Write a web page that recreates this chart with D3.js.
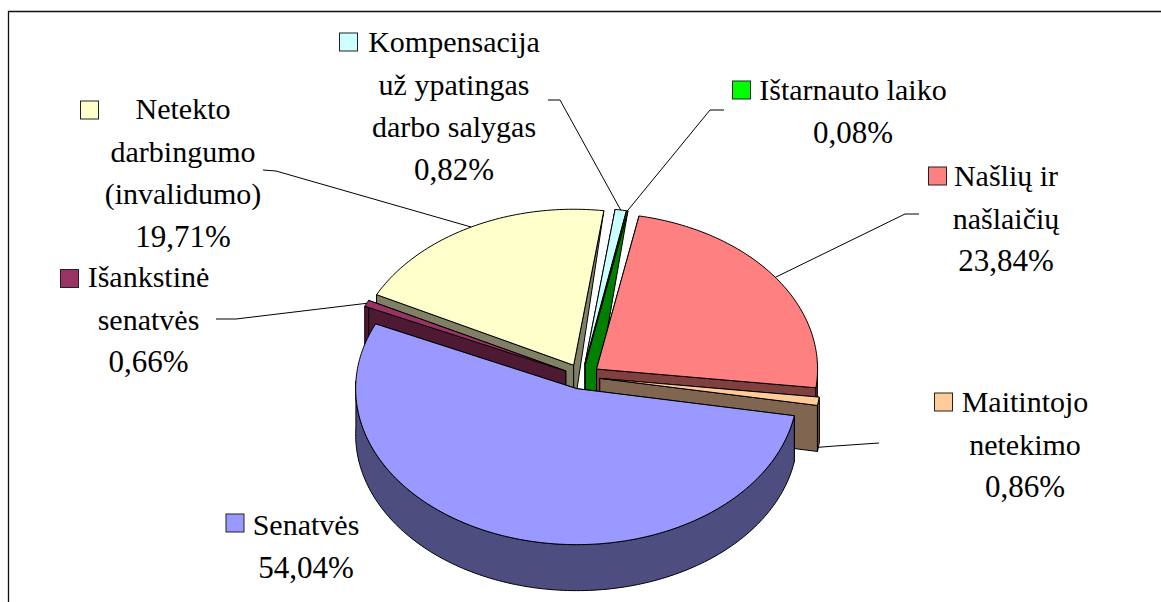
<!DOCTYPE html>
<html><head><meta charset="utf-8">
<script src="https://cdn.jsdelivr.net/npm/d3@7/dist/d3.min.js"></script>
<style>html,body{margin:0;padding:0;background:#fff;overflow:hidden}svg{display:block}text{font-family:"Liberation Serif",serif;fill:#000}</style>
</head><body><svg id="c" width="1161" height="602"></svg>
<script>
// Data, in the chart's clockwise order starting at "Senatvės"
const categories = ["Senatvės","Išankstinė senatvės","Netekto darbingumo (invalidumo)","Kompensacija už ypatingas darbo salygas","Ištarnauto laiko","Našlių ir našlaičių","Maitintojo netekimo"];
const shares = [54.04,0.66,19.71,0.82,0.08,23.84,0.86];
const valueLabels = ["54,04%","0,66%","19,71%","0,82%","0,08%","23,84%","0,86%"];
const labelLines = [["Senatvės"],["Išankstinė","senatvės"],["Netekto","darbingumo","(invalidumo)"],["Kompensacija","už ypatingas","darbo salygas"],["Ištarnauto laiko"],["Našlių ir","našlaičių"],["Maitintojo","netekimo"]];
const topColors = ["#9999ff","#993366","#ffffcc","#ccffff","#00ff00","#ff8080","#ffcc99"];
const wallColors = ["#4d4d80","#4d1933","#808066","#668080","#008000","#804040","#806650"];
// Layout
const labelCx = [306,148.5,183,454,853,1006,1025];
const labelBase = [535,287,119,52,100,186,412];
const keyPos = [[226,514],[60.5,269.5],[80.5,101],[339.5,33],[732.5,81],[928.5,167],[934.5,393]];
const leaderPaths = [null,[[216,319],[236,319]],[[263,170],[276,171]],[[548,100],[560,100]],[[724,110],[710,110]],[[919,214],[905,214]],[[879,443],[835,446]]];
const leaderFromWall = [false,false,false,false,false,false,true];
const taperExtra = [0,0,0,0,16,0,0];
const drawOrder = [3,4,2,5,6,1,0];
const startDeg=100, rx=221, ry=156, depth=46, explode=18, cx=582, cy=376.5, lh=42.5, fs=30, fsValue=31;

const svg=d3.select("#c");
svg.append("path").attr("d","M8.5,602V11.5H1161").attr("fill","none").attr("stroke","#111").attr("stroke-width",1.3);

const pie=d3.pie().sort(null).value(d=>d).startAngle(startDeg*Math.PI/180).endAngle((startDeg+360)*Math.PI/180);
const arcs=pie(shares);
const X=d3.scaleLinear().domain([-1,1]).range([-rx,rx]);
const Y=d3.scaleLinear().domain([-1,1]).range([-ry,ry]);
const pt=(o,a,r=1)=>[o[0]+X(Math.sin(a)*r),o[1]-Y(Math.cos(a)*r)];
const line=d3.line();
const origin=a=>pt([cx,cy],(a.startAngle+a.endAngle)/2,explode/rx);
function rim(o,a,front){const n=Math.max(2,Math.ceil((a.endAngle-a.startAngle)/0.02));
  return d3.range(n+1).map(i=>a.startAngle+(a.endAngle-a.startAngle)*i/n)
    .filter(t=>!front||Math.cos(t)<=0.05).map(t=>pt(o,t));}
const down=p=>[p[0],p[1]+depth];
const g=svg.append("g").attr("stroke-linejoin","round");
drawOrder.forEach(i=>{
  const a=arcs[i],o=origin(a),r=rim(o,a,false),f=rim(o,a,true);
  const poly=pts=>g.append("path").attr("d",line(pts)+"Z").attr("fill",wallColors[i]).attr("stroke","#000").attr("stroke-width",1);
  const edge=(ang,p)=>{
    const nearNorth=Math.abs(Math.sin(ang))<0.5&&Math.cos(ang)>0;
    const w=taperExtra[i];
    if(!nearNorth)poly([o,p,down(p),down(o)]);
    else if(w>0)poly([o,p,[o[0]+w,o[1]],[o[0]+w,o[1]+depth],down(o)]);
    else poly([o,p,down(o)]);
  };
  edge(a.startAngle,r[0]);
  edge(a.endAngle,r[r.length-1]);
  if(f.length>1)poly(f.concat(f.map(down).reverse()));
  g.append("path").attr("d",line([o,...r])+"Z").attr("fill",topColors[i]).attr("stroke","#000").attr("stroke-width",1);
});
// leaders
arcs.forEach((a,i)=>{
  if(!leaderPaths[i])return;
  let p=pt(origin(a),(a.startAngle+a.endAngle)/2);
  if(leaderFromWall[i])p=down(p);
  svg.append("path").attr("d",line([...leaderPaths[i],p])).attr("fill","none").attr("stroke","#000").attr("stroke-width",1);
});
// labels
categories.forEach((c,i)=>{
  const lines=[...labelLines[i],valueLabels[i]];
  lines.forEach((t,j)=>{
    svg.append("text").attr("x",labelCx[i]).attr("y",labelBase[i]+j*lh).attr("text-anchor","middle")
      .attr("font-size",j===lines.length-1?fsValue:fs).text(t);
  });
  svg.append("rect").attr("x",keyPos[i][0]).attr("y",keyPos[i][1]).attr("width",18).attr("height",18).attr("fill",topColors[i]).attr("stroke","#222").attr("stroke-width",1);
});
</script></body></html>
